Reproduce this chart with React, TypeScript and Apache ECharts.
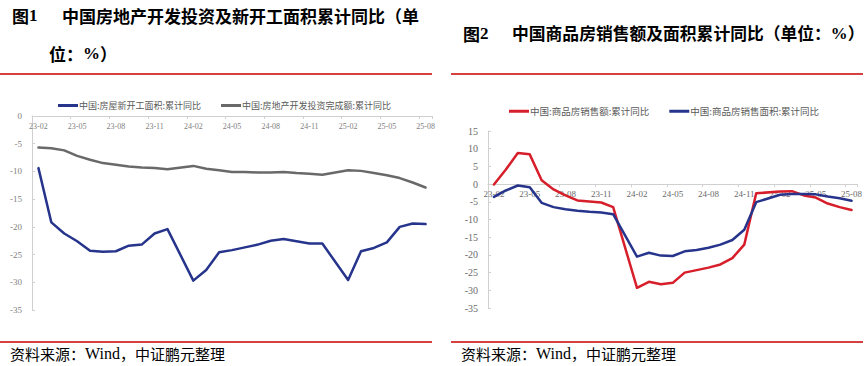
import React, { useEffect, useRef } from "react";
import * as echarts from "echarts";

const categories = [
  "23-02", "23-03", "23-04", "23-05", "23-06", "23-07", "23-08", "23-09", "23-10", "23-11", "23-12",
  "24-01", "24-02", "24-03", "24-04", "24-05", "24-06", "24-07", "24-08", "24-09", "24-10", "24-11", "24-12",
  "25-01", "25-02", "25-03", "25-04", "25-05", "25-06", "25-07", "25-08",
];

const newStartsName = "中国:房屋新开工面积:累计同比";
const investmentName = "中国:房地产开发投资完成额:累计同比";
const salesAmountName = "中国:商品房销售额:累计同比";
const salesAreaName = "中国:商品房销售面积:累计同比";

const newStarts = [
  -9.4, -19.2, -21.2, -22.6, -24.3, -24.5, -24.4, -23.4, -23.2, -21.2, -20.4,
  null, -29.7, -27.8, -24.6, -24.2, -23.7, -23.2, -22.5, -22.2, -22.6, -23.0, -23.0,
  null, -29.6, -24.4, -23.8, -22.8, -20.0, -19.4, -19.5,
];
const investment = [
  -5.7, -5.8, -6.2, -7.2, -7.9, -8.5, -8.8, -9.1, -9.3, -9.4, -9.6,
  null, -9.0, -9.5, -9.8, -10.1, -10.1, -10.2, -10.2, -10.1, -10.3, -10.4, -10.6,
  null, -9.8, -9.9, -10.3, -10.7, -11.2, -12.0, -12.9,
];
const salesAmount = [
  -0.1, 4.1, 8.8, 8.4, 1.1, -1.5, -3.2, -4.6, -4.9, -5.2, -6.5,
  null, -29.3, -27.6, -28.3, -27.9, -25.0, -24.3, -23.6, -22.7, -20.9, -17.1, -2.6,
  null, -2.1, -2.0, -3.2, -3.8, -5.5, -6.5, -7.3,
];
const salesArea = [
  -3.6, -1.8, -0.4, -0.9, -5.3, -6.5, -7.1, -7.5, -7.8, -8.0, -8.5,
  null, -20.5, -19.4, -20.2, -20.3, -19.0, -18.6, -18.0, -17.1, -15.8, -12.9, -5.1,
  null, -3.0, -2.8, -2.8, -2.9, -3.5, -4.0, -4.7,
];

const yRange1 = { min: -35, max: 0, interval: 5 };
const yRange2 = { min: -35, max: 15, interval: 5 };

const serif = '"Liberation Serif", "Times New Roman", serif';
const cjk = '"Noto Sans CJK SC", "Noto Sans", sans-serif';

const BLUE = "#26348C";
const GRAY = "#696969";
const RED = "#D71F2B";
const LINE_RED = "#C80000";
const AXIS = "#D0D0D0";

const grid1 = { left: 32, top: 116, width: 400, height: 194 };
const grid2 = { left: 488, top: 131, width: 373, height: 177 };

// distance from grid top down to the value 0 line
function zeroOffset(g: any, r: any) {
  return (g.height * r.max) / (r.max - r.min);
}

function xAxisCfg(gridIndex: number, offset: number, fontSize: number, color: string, margin: number) {
  return {
    type: "category",
    gridIndex,
    data: categories,
    boundaryGap: true,
    position: "top",
    offset: -offset,
    axisLine: { onZero: false, lineStyle: { color: AXIS, width: 1 } },
    axisTick: { show: true, inside: true, interval: 2, length: 3, lineStyle: { color: AXIS } },
    axisLabel: {
      inside: true,
      interval: 2,
      margin,
      fontSize,
      color,
      fontFamily: serif,
      hideOverlap: false,
    },
    splitLine: { show: false },
  };
}

function yAxisCfg(gridIndex: number, range: any, fontSize: number, color: string) {
  return {
    type: "value",
    gridIndex,
    min: range.min,
    max: range.max,
    interval: range.interval,
    axisLine: { show: true, onZero: false, lineStyle: { color: AXIS, width: 1 } },
    axisTick: { show: true, inside: true, length: 3, lineStyle: { color: AXIS } },
    axisLabel: { margin: 10, fontSize, color, fontFamily: serif },
    splitLine: { show: false },
  };
}

function lineSeries(name: string, data: any[], color: string, idx: number) {
  return {
    type: "line",
    name,
    data,
    xAxisIndex: idx,
    yAxisIndex: idx,
    symbol: "none",
    connectNulls: true,
    lineStyle: { color, width: 2.5, join: "round", cap: "round" },
    itemStyle: { color },
    emphasis: { disabled: true },
  };
}

function redLine(x1: number, x2: number, y: number) {
  return {
    type: "line",
    shape: { x1, y1: y, x2, y2: y },
    style: { stroke: LINE_RED, lineWidth: 1.5 },
    silent: true,
  };
}

function txt(x: number, y: number, text: string, size: number, bold: boolean, rich?: any) {
  return {
    type: "text",
    x,
    y,
    silent: true,
    style: {
      text,
      fontSize: size,
      fontWeight: bold ? "bold" : "normal",
      fontFamily: cjk,
      fill: "#000",
      verticalAlign: "middle",
      align: "left",
      rich,
    },
  };
}

export default function App() {
  const ref = useRef<HTMLDivElement>(null);

  useEffect(() => {
    if (!ref.current) return;
    const chart = echarts.init(ref.current, null, { renderer: "svg" });

    const titleRich = (size: number) => ({
      c: { fontFamily: cjk, fontSize: size, fontWeight: "bold", fill: "#000" },
      n: { fontFamily: serif, fontSize: size, fontWeight: "bold", fill: "#000" },
    });
    const srcRich = {
      c: { fontFamily: cjk, fontSize: 15, fill: "#000" },
      w: { fontFamily: serif, fontSize: 16, fill: "#000" },
    };

    chart.setOption({
      animation: false,
      backgroundColor: "#ffffff",
      grid: [
        { ...grid1, containLabel: false },
        { ...grid2, containLabel: false },
      ],
      legend: [
        {
          data: [newStartsName, investmentName],
          left: 58,
          top: 101,
          padding: 0,
          itemGap: 20,
          itemWidth: 20,
          itemHeight: 3,
          icon: "rect",
          selectedMode: false,
          textStyle: { fontSize: 9, color: "#595959", fontFamily: cjk, padding: [0, 0, 0, -4] },
        },
        {
          data: [salesAmountName, salesAreaName],
          left: 509,
          top: 106.5,
          padding: 0,
          itemGap: 20,
          itemWidth: 20,
          itemHeight: 3,
          icon: "rect",
          selectedMode: false,
          textStyle: { fontSize: 9.5, color: "#595959", fontFamily: cjk, padding: [0, 0, 0, -4] },
        },
      ],
      xAxis: [
        xAxisCfg(0, zeroOffset(grid1, yRange1), 8, "#808080", 6),
        xAxisCfg(1, zeroOffset(grid2, yRange2), 9, "#6b6b6b", 5),
      ],
      yAxis: [yAxisCfg(0, yRange1, 9, "#808080"), yAxisCfg(1, yRange2, 10, "#6b6b6b")],
      series: [
        lineSeries(newStartsName, newStarts, BLUE, 0),
        lineSeries(investmentName, investment, GRAY, 0),
        lineSeries(salesAmountName, salesAmount, RED, 1),
        lineSeries(salesAreaName, salesArea, BLUE, 1),
      ],
      graphic: [
        txt(12, 15, "{c|图}{n|1}", 17, true, titleRich(17)),
        txt(62, 15, "中国房地产开发投资及新开工面积累计同比（单", 17, true),
        txt(49, 53, "{c|位：}{n|%}{c|）}", 17, true, titleRich(17)),
        txt(463, 33, "{c|图}{n|2}", 17, true, titleRich(17)),
        txt(512, 33, "{c|中国商品房销售额及面积累计同比（单位：}{n|%}{c|）}", 16.8, true, titleRich(16.8)),
        redLine(0, 432, 74),
        redLine(451, 863, 74),
        redLine(0, 432, 342),
        redLine(451, 863, 342),
        txt(10, 353, "{c|资料来源：}{w|Wind}{c|，中证鹏元整理}", 15, false, srcRich),
        txt(461, 353, "{c|资料来源：}{w|Wind}{c|，中证鹏元整理}", 15, false, srcRich),
      ],
    });

    return () => chart.dispose();
  }, []);

  return (
    <div
      ref={ref}
      style={{ position: "absolute", left: 0, top: 0, width: 865, height: 366, background: "#fff" }}
    />
  );
}
